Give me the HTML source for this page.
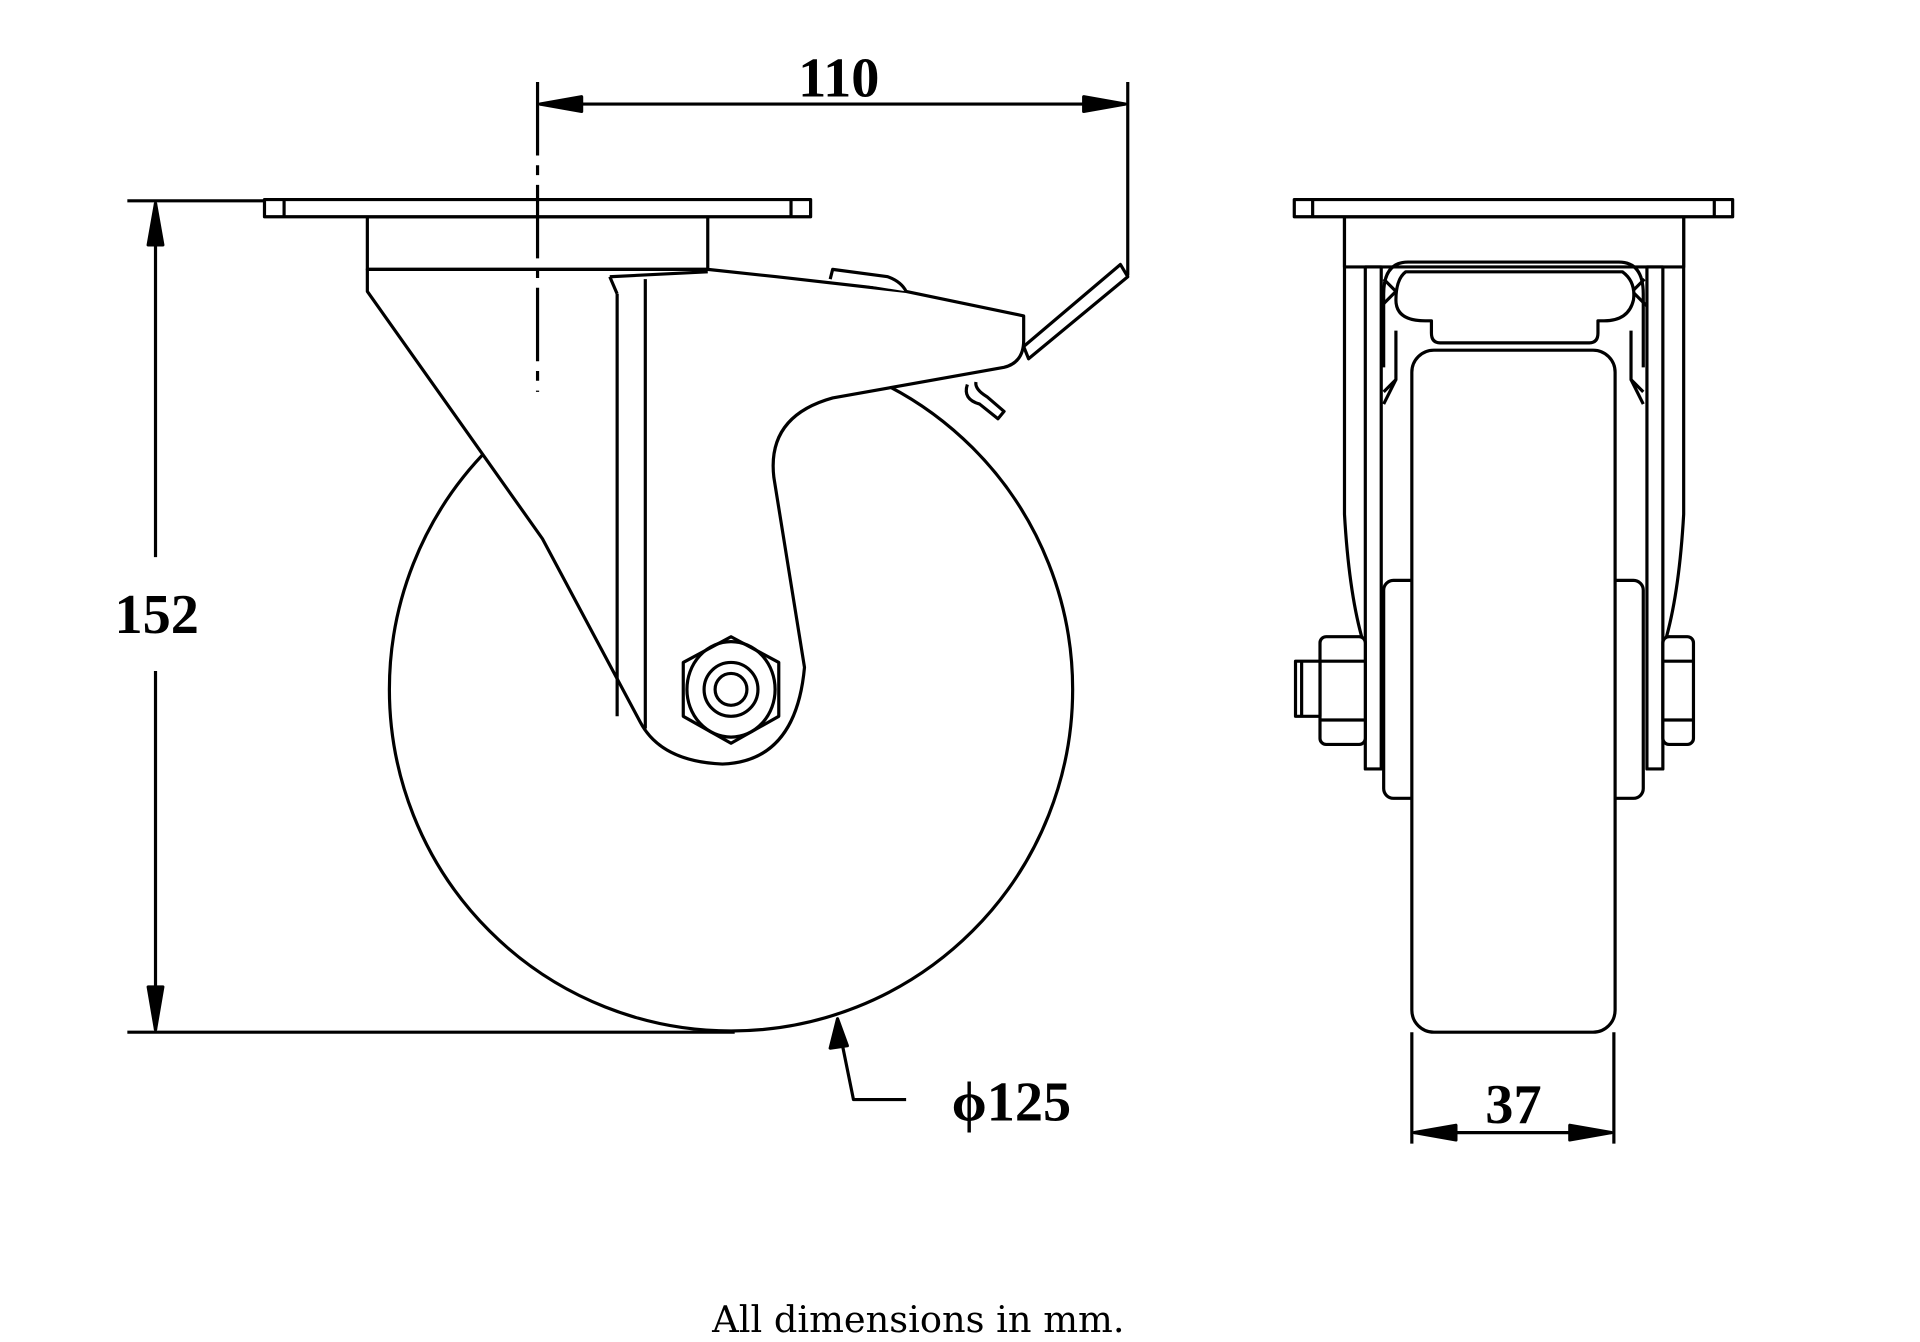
<!DOCTYPE html>
<html><head><meta charset="utf-8"><style>html,body{margin:0;padding:0;background:#fff}svg{display:block}</style></head>
<body>
<svg width="1920" height="1342" viewBox="0 0 1568 1096" preserveAspectRatio="none" xmlns="http://www.w3.org/2000/svg">
<g fill="none" stroke="#000" stroke-width="2.6" stroke-linejoin="round">
<line x1="104" y1="164" x2="216" y2="164"/>
<line x1="104" y1="843" x2="600" y2="843"/>
<line x1="127" y1="166" x2="127" y2="455"/>
<line x1="127" y1="548" x2="127" y2="841"/>
<polygon points="127,166 121,200 133,200" fill="#000"/>
<polygon points="127,841 121,806 133,806" fill="#000"/>
<line x1="441" y1="85" x2="919" y2="85"/>
<polygon points="441,85 475,79 475,91" fill="#000"/>
<polygon points="919,85 885,79 885,91" fill="#000"/>
<line x1="921" y1="67" x2="921" y2="225"/>
<circle cx="597" cy="563" r="279"/>
<rect x="300" y="177" width="278" height="43" fill="#fff"/>
<rect x="216" y="163" width="446" height="14" fill="#fff"/>
<line x1="232" y1="163" x2="232" y2="177"/>
<line x1="646" y1="163" x2="646" y2="177"/>
<polygon points="836,283 915,216 921,226 840,293" fill="#fff"/>
<path d="M790,314 Q786,326 800,330 L815,342 L820,336 L806,324 Q796,318 797,312" fill="#fff"/>
<path d="M300,220 L300,238 L443,440 L523,590 Q540,622 590,624 Q650,622 657,545 L632,390 Q626,340 680,325 L820,300 Q836,296 836,278 L836,258 L740,238 L634,226 L578,220 Z" fill="#fff"/>
<path d="M678,228 L680,220 L725,226 Q736,230 740,238" fill="#fff"/>
<line x1="498" y1="226" x2="504" y2="240"/>
<line x1="504" y1="240" x2="504" y2="585"/>
<line x1="527" y1="228" x2="527" y2="595"/>
<line x1="498" y1="226" x2="578" y2="222"/>
<polygon points="597,520 636,541 636,585 597,607 558,585 558,541" fill="#fff"/>
<ellipse cx="597" cy="563" rx="36" ry="39"/>
<circle cx="597" cy="563" r="22"/>
<circle cx="597" cy="563" r="13"/>
<line x1="439" y1="67" x2="439" y2="320" stroke-dasharray="60,8,8,8"/>
<polyline points="684,834 697,898 740,898"/>
<polygon points="684,832 678,856 692,854" fill="#000"/>

<path d="M1098,177 L1098,420 Q1102,490 1115,530" fill="#fff"/>
<path d="M1375,177 L1375,420 Q1371,490 1358,530" fill="#fff"/>
<rect x="1098" y="177" width="277" height="41" fill="#fff"/>
<rect x="1057" y="163" width="358" height="14" fill="#fff"/>
<line x1="1072" y1="163" x2="1072" y2="177"/>
<line x1="1400" y1="163" x2="1400" y2="177"/>
<rect x="1115" y="218" width="13" height="410" fill="#fff"/>
<rect x="1345" y="218" width="13" height="410" fill="#fff"/>
<rect x="1130" y="474" width="212" height="178" rx="8" fill="#fff"/>
<rect x="1153" y="286" width="166" height="557" rx="18" fill="#fff"/>
<path d="M1128,250 L1140,238 L1130,228 M1345,250 L1333,238 L1343,228"/>
<path d="M1130,300 L1130,240 Q1130,214 1150,214 L1322,214 Q1342,214 1342,240 L1342,300"/>
<path d="M1148,222 L1325,222 Q1336,230 1334,245 Q1330,262 1310,262 L1305,262 L1305,272 Q1305,280 1298,280 L1176,280 Q1169,280 1169,272 L1169,262 L1164,262 Q1140,262 1140,245 Q1140,228 1148,222 Z" fill="#fff"/>
<path d="M1140,270 L1140,310 L1130,320 M1332,270 L1332,310 L1342,320"/>
<path d="M1130,330 L1140,310 M1342,330 L1332,310"/>
<rect x="1078" y="520" width="37" height="88" rx="5" fill="#fff"/>
<line x1="1078" y1="540" x2="1115" y2="540"/>
<line x1="1078" y1="588" x2="1115" y2="588"/>
<rect x="1058" y="540" width="20" height="45" fill="#fff"/>
<line x1="1063" y1="540" x2="1063" y2="585"/>
<rect x="1358" y="520" width="25" height="88" rx="5" fill="#fff"/>
<line x1="1358" y1="540" x2="1383" y2="540"/>
<line x1="1358" y1="588" x2="1383" y2="588"/>
<line x1="1153" y1="843" x2="1153" y2="934"/>
<line x1="1318" y1="843" x2="1318" y2="934"/>
<line x1="1155" y1="925" x2="1316" y2="925"/>
<polygon points="1155,925 1189,919 1189,931" fill="#000"/>
<polygon points="1316,925 1282,919 1282,931" fill="#000"/>
</g>
<g font-family="'Liberation Serif', serif" font-weight="bold" fill="#000" text-anchor="middle" font-size="46">
<text x="685" y="79">110</text>
<text x="128" y="517">152</text>
<text x="826" y="915">ϕ125</text>
<text x="1236" y="917">37</text>
</g>
<text x="750" y="1088" font-family="'DejaVu Serif', serif" font-size="30" text-anchor="middle" fill="#000">All dimensions in mm.</text>
</svg>
</body></html>
